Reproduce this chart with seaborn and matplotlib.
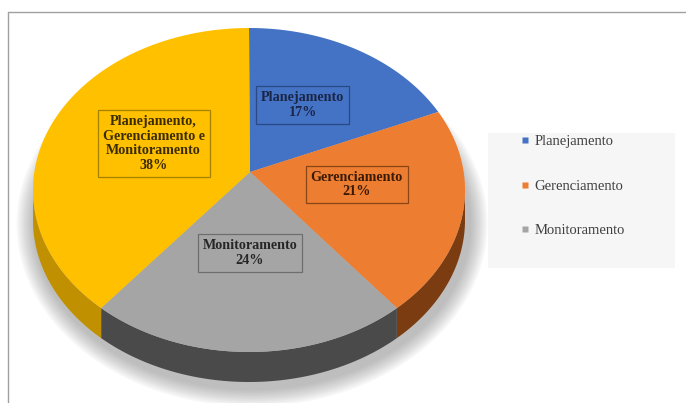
import numpy as np
import pandas as pd
import seaborn as sns
import matplotlib.pyplot as plt
from matplotlib.patches import Polygon, Ellipse, Rectangle
from matplotlib.lines import Line2D

# Dados do grafico
categorias = ['Planejamento', 'Gerenciamento', 'Monitoramento',
              'Planejamento,\nGerenciamento e\nMonitoramento']
percentuais = [17, 21, 24, 38]
legenda = ['Planejamento', 'Gerenciamento', 'Monitoramento']

cores = ['#4472C4', '#ED7D31', '#A5A5A5', '#FFC000']
cores_lado = ['#2F5597', '#7A3C10', '#4A4A4A', '#C09000']
cores_texto = ['#1A2648', '#3A1A05', '#262626', '#3A2C00']
cores_borda = ['#2A4A85', '#8A4515', '#6E6E6E', '#A88000']

df = pd.DataFrame({'categoria': categorias, 'pct': percentuais})

sns.set_theme(style='white')
plt.rcParams['font.family'] = ['Liberation Serif', 'DejaVu Serif']

fig = plt.figure(figsize=(6.86, 4.03), dpi=100)
ax = fig.add_axes([0, 0, 1, 1])
ax.set_xlim(0, 686)
ax.set_ylim(403, 0)
ax.axis('off')

# geometria da pizza (em pixels)
cx, cy = 249, 190
rx, ry = 216, 162
vx, vy = 250, 172
prof = 30

# moldura
ax.add_line(Line2D([8, 686], [12, 12], color='#A0A0A0', lw=1))
ax.add_line(Line2D([8, 8], [12, 403], color='#A0A0A0', lw=1))

# sombra
for k in range(12):
    ax.add_patch(Ellipse((cx + 3, cy + prof + 4), 2 * rx + 6 + 3 * k,
                         2 * ry + 8 + 3 * k, color='#606060', alpha=0.04,
                         lw=0, zorder=1))


def pt(t):
    t = np.radians(t)
    return cx + rx * np.cos(t), cy - ry * np.sin(t)


fracs = df['pct'].values / df['pct'].sum()
limites = 90 - 360 * np.concatenate([[0], np.cumsum(fracs)])

for i in range(len(df)):
    a0, a1 = limites[i], limites[i + 1]
    ts = np.linspace(a0, a1, 200)
    xs, ys = pt(ts)
    ax.add_patch(Polygon(np.column_stack([np.r_[vx, xs], np.r_[vy, ys]]),
                         closed=True, fc=cores[i], ec='none', zorder=3))
    # lateral visivel (parte da frente)
    lo, hi = max(min(a0, a1), -180), min(max(a0, a1), 0)
    if lo < hi:
        ts = np.linspace(lo, hi, 200)
        xs, ys = pt(ts)
        px = np.r_[xs, xs[::-1]]
        py = np.r_[ys, ys[::-1] + prof]
        ax.add_patch(Polygon(np.column_stack([px, py]), closed=True,
                             fc=cores_lado[i], ec='none', zorder=2))

# rotulos
for i in range(len(df)):
    meio = np.radians((limites[i] + limites[i + 1]) / 2)
    f = 0.48 if i in (0, 3) else 0.5
    x = vx + f * rx * np.cos(meio)
    y = vy - f * ry * np.sin(meio)
    ax.text(x, y, f"{df['categoria'][i]}\n{df['pct'][i]}%", ha='center',
            va='center', fontsize=10.2, fontweight='bold', color=cores_texto[i],
            linespacing=1.15, zorder=5,
            bbox=dict(boxstyle='square,pad=0.35', fc=cores[i],
                      ec=cores_borda[i], lw=0.9))

# legenda
ax.add_patch(Rectangle((488, 133), 187, 135, fc='#F6F6F6', ec='none',
                       zorder=1))
handles = [Line2D([], [], marker='s', ls='none', markersize=5,
                  markerfacecolor=cores[i], markeredgecolor='none')
           for i in range(len(legenda))]
leg = ax.legend(handles, legenda, loc='upper left',
                bbox_to_anchor=(521 / 686, 1 - 135 / 403),
                frameon=False, fontsize=10.5, labelspacing=2.15,
                handlelength=0.6, handletextpad=0.3, borderpad=0,
                borderaxespad=0)
for t in leg.get_texts():
    t.set_color('#404040')

fig.savefig('out.png', dpi=100)
